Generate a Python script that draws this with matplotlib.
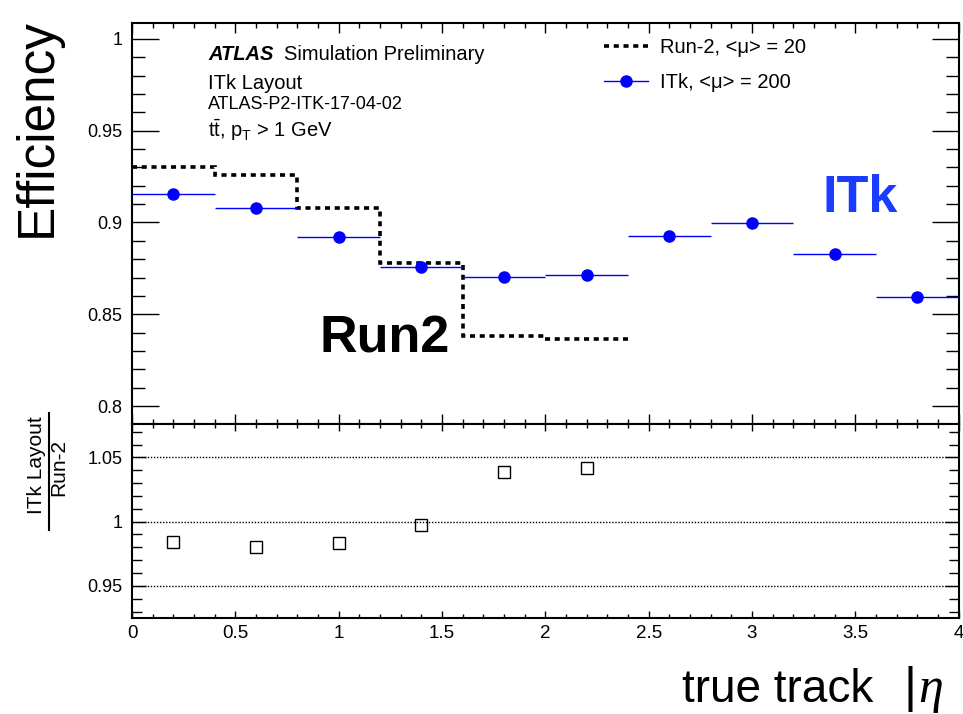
import numpy as np
import matplotlib.pyplot as plt
from matplotlib.lines import Line2D
from matplotlib.ticker import MultipleLocator

# |eta| binning and efficiencies
eta_edges = [0.0, 0.4, 0.8, 1.2, 1.6, 2.0, 2.4, 2.8, 3.2, 3.6, 4.0]
itk_eff = [0.9153, 0.9077, 0.8923, 0.8760, 0.8703, 0.8714, 0.8924, 0.8997, 0.8828, 0.8594]

run2_edges = [0.0, 0.4, 0.8, 1.2, 1.6, 2.0, 2.4]
run2_eff = [0.9304, 0.9259, 0.9077, 0.8778, 0.8383, 0.8367]

# ITk / Run-2 ratio for the bins where both exist
ratio = [0.9840, 0.9806, 0.9832, 0.9977, 1.0387, 1.0420]

W, H = 963, 714
FONT = "Liberation Sans"

plt.rcParams["font.family"] = [FONT, "DejaVu Sans"]
plt.rcParams["mathtext.fontset"] = "custom"
plt.rcParams["mathtext.rm"] = FONT
plt.rcParams["mathtext.it"] = FONT + ":italic"
plt.rcParams["mathtext.bf"] = FONT + ":bold"


def px(x, y):
    # pixel position (from top-left) -> figure fraction
    return x / W, 1 - y / H


def style_axis(ax, ymaj, ymin, xlen, ylen):
    ax.xaxis.set_major_locator(MultipleLocator(0.5))
    ax.xaxis.set_minor_locator(MultipleLocator(0.1))
    ax.yaxis.set_major_locator(MultipleLocator(ymaj))
    ax.yaxis.set_minor_locator(MultipleLocator(ymin))
    ax.tick_params(which="both", direction="in", top=True, right=True, width=1.0)
    ax.tick_params(axis="x", which="major", length=xlen[0])
    ax.tick_params(axis="x", which="minor", length=xlen[1])
    ax.tick_params(axis="y", which="major", length=ylen[0])
    ax.tick_params(axis="y", which="minor", length=ylen[1])
    ax.tick_params(axis="y", labelsize=13, pad=7)
    for sp in ax.spines.values():
        sp.set_linewidth(1.5)
    ax.yaxis.set_major_formatter(plt.FuncFormatter(lambda v, p: f"{v:g}"))
    ax.xaxis.set_major_formatter(plt.FuncFormatter(lambda v, p: f"{v:g}"))


def main():
    fig = plt.figure(figsize=(W / 100, H / 100), dpi=100)
    left, right = 132 / W, 958.7 / W
    ax = fig.add_axes([left, 1 - 424 / H, right - left, (424 - 23) / H])
    rax = fig.add_axes([left, 1 - 618 / H, right - left, (618 - 424) / H])

    edges = np.array(eta_edges)
    centers = 0.5 * (edges[:-1] + edges[1:])
    half = 0.5 * np.diff(edges)

    # Run-2 dotted step histogram
    ax.stairs(run2_eff, run2_edges, baseline=None, color="black",
              linewidth=2.6, linestyle=(0, (1.4, 1.3)))
    # ITk points with horizontal bin-width bars
    ax.errorbar(centers, itk_eff, xerr=half, fmt="o", color="blue",
                markersize=8, elinewidth=1.0, capsize=0, zorder=3)

    ax.set_xlim(0, 4)
    ax.set_ylim(0.7902, 1.0087)
    style_axis(ax, 0.05, 0.01, (7, 3.6), (19.5, 9.5))
    ax.tick_params(axis="x", labelbottom=False)

    handles = [
        Line2D([], [], color="black", linewidth=2.6, linestyle=(0, (1.4, 1.3))),
        Line2D([], [], color="blue", linewidth=1.0, marker="o", markersize=8),
    ]
    labels = ["Run-2, <\u03bc> = 20", "ITk, <\u03bc> = 200"]
    ax.legend(handles, labels, loc="upper left", bbox_to_anchor=px(604, 38),
              bbox_transform=fig.transFigure, frameon=False, fontsize=14.5,
              handlelength=2.2, handletextpad=0.6, labelspacing=0.78,
              borderpad=0, borderaxespad=0)

    # ATLAS label block
    fig.text(*px(208, 60), "ATLAS", fontsize=14.5, fontweight="bold",
             fontstyle="italic", va="baseline")
    fig.text(*px(284, 60), "Simulation Preliminary", fontsize=14.5, va="baseline")
    fig.text(*px(208, 89), "ITk Layout", fontsize=14.5, va="baseline")
    fig.text(*px(208, 109), "ATLAS-P2-ITK-17-04-02", fontsize=13, va="baseline")
    fig.text(*px(208, 137), r"t$\bar{\mathrm{t}}$, p$_\mathrm{T}$ > 1 GeV",
             fontsize=14.5, va="baseline")

    ax.text(0.9095, 0.8289, "Run2", fontsize=37.5, fontweight="bold",
            color="black", va="baseline")
    ax.text(3.343, 0.9057, "ITk", fontsize=37.5, fontweight="bold",
            color="#1a3cff", va="baseline")

    # ratio panel
    for lvl in (0.95, 1.0, 1.05):
        rax.axhline(lvl, color="black", linewidth=1.0, linestyle=(0, (1, 1.2)))
    rax.plot(centers[:len(ratio)], ratio, linestyle="none", marker="s",
             markersize=9, markerfacecolor="none", markeredgecolor="black",
             markeredgewidth=1.0)
    rax.set_xlim(0, 4)
    rax.set_ylim(0.925, 1.076)
    style_axis(rax, 0.05, 0.01, (5, 3), (10, 7))
    rax.tick_params(axis="x", labelsize=13.5, pad=5)

    # axis titles
    fig.text(*px(37, 18), "Efficiency", fontsize=37, rotation=90,
             ha="center", va="top")
    # ratio title drawn as a fraction: numerator / bar / denominator
    fig.text(*px(37, 465), "ITk Layout", fontsize=15, rotation=90,
             ha="center", va="center")
    fig.text(*px(59, 468), "Run-2", fontsize=15, rotation=90,
             ha="center", va="center")
    fig.add_artist(Line2D([49 / W, 49 / W], [1 - 413 / H, 1 - 530 / H],
                          color="black", linewidth=1.5))
    fig.text(*px(873, 702), "true track", fontsize=33, ha="right", va="baseline")
    fig.text(*px(903, 702), "|", fontsize=36, va="baseline")
    fig.text(*px(918, 702), "\u03b7", fontsize=36, fontfamily="Liberation Serif",
             fontstyle="italic", va="baseline")

    fig.savefig("out.png", dpi=100)


if __name__ == "__main__":
    main()
